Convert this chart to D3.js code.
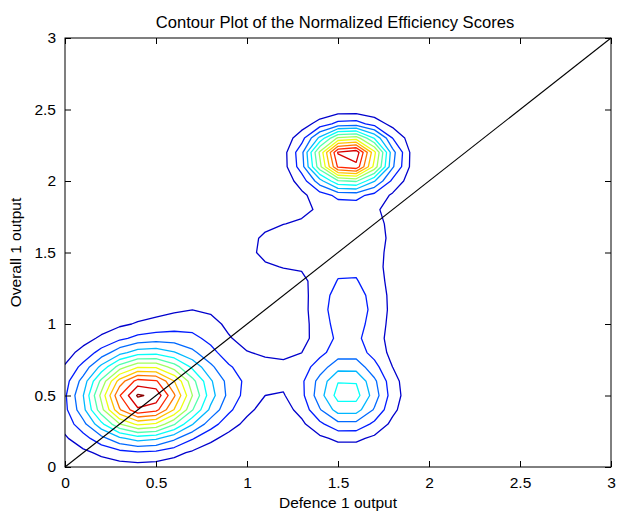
<!DOCTYPE html>
<html><head><meta charset="utf-8">
<script src="https://cdn.jsdelivr.net/npm/d3@7"></script>
<style>body{margin:0;background:#fff} text{font-family:"Liberation Sans",Arial,Helvetica,sans-serif;fill:#000}</style>
</head><body><svg id="c" width="619" height="514"></svg>
<script>
const chartTitle = "Contour Plot of the Normalized Efficiency Scores";
const xLabel = "Defence 1 output";
const yLabel = "Overall 1 output";
const xTicks = [0, 0.5, 1, 1.5, 2, 2.5, 3];
const yTicks = [0, 0.5, 1, 1.5, 2, 2.5, 3];
const tickLabels = ["0", "0.5", "1", "1.5", "2", "2.5", "3"];
const contourLevels = [1, 2, 3, 4, 5, 6, 7, 8, 9, 10, 11, 12, 13];
// density surface: bumps
const bumpX       = [0.42, 0.60, 0.78, 0.05, 0.74, 1.15, 1.55, 1.555, 1.55, 1.16, 1.56];
const bumpY       = [0.485, 0.80, 0.50, 0.38, 1.00, 0.68, 0.51, 1.10, 1.66, 1.53, 2.165];
const bumpHeight  = [12.4, 1.4, 2.0, 0.5, 0.6, 0.8, 5.6, 2.6, 1.45, 1.3, 13.6];
const bumpSpreadX = [0.20, 0.26, 0.20, 0.20, 0.12, 0.14, 0.153, 0.15, 0.23, 0.13, 0.145];
const bumpSpreadY = [0.195, 0.22, 0.18, 0.28, 0.14, 0.12, 0.18, 0.23, 0.22, 0.13, 0.128];
const gridStart = -0.5, gridEnd = 3.5, gridStep = 0.1;
const diagonal = [[0, 0], [3, 3]];

const m = {left: 65, top: 38, right: 611, bottom: 467};
const xs = d3.scaleLinear().domain([0, 3]).range([m.left, m.right]);
const ys = d3.scaleLinear().domain([0, 3]).range([m.bottom, m.top]);
const svg = d3.select("#c");

function surface(x, y) {
  let s = 0;
  for (let k = 0; k < bumpX.length; k++) {
    const dx = (x - bumpX[k]) / bumpSpreadX[k], dy = (y - bumpY[k]) / bumpSpreadY[k];
    s += bumpHeight[k] * Math.exp(-0.5 * (dx * dx + dy * dy));
  }
  return s;
}
const n = Math.round((gridEnd - gridStart) / gridStep) + 1;
const values = new Array(n * n);
for (let j = 0; j < n; j++) for (let i = 0; i < n; i++)
  values[i + j * n] = surface(gridStart + i * gridStep, gridStart + j * gridStep);
const zMin = d3.min(values), zMax = d3.max(values);

// find the grid offset d3.contours uses
const test = d3.contours().size([4, 4]).thresholds([1.5])([0,1,2,3,0,1,2,3,0,1,2,3,0,1,2,3]);
let minX = Infinity;
test[0].coordinates.forEach(p => p.forEach(r => r.forEach(pt => { if (pt[0] < minX) minX = pt[0]; })));
const off = minX - 1.5;

function jet(v) {
  const c = t => Math.max(0, Math.min(1, t));
  const r = c(1.5 - Math.abs(4 * v - 3)), g = c(1.5 - Math.abs(4 * v - 2)), b = c(1.5 - Math.abs(4 * v - 1));
  return d3.rgb(r * 255, g * 255, b * 255).toString();
}

svg.append("defs").append("clipPath").attr("id", "plotclip").append("rect")
  .attr("x", m.left).attr("y", m.top).attr("width", m.right - m.left).attr("height", m.bottom - m.top);

const proj = d3.geoTransform({point: function(x, y) {
  this.stream.point(xs(gridStart + (x - off) * gridStep), ys(gridStart + (y - off) * gridStep));
}});
const path = d3.geoPath(proj);
const contours = d3.contours().size([n, n]).thresholds(contourLevels)(values);
svg.append("g").attr("clip-path", "url(#plotclip)")
  .selectAll("path").data(contours).join("path")
  .attr("d", path).attr("fill", "none")
  .attr("stroke", d => jet((d.value - zMin) / (zMax - zMin)))
  .attr("stroke-width", 1.3).attr("stroke-linejoin", "round");

svg.append("line")
  .attr("x1", xs(diagonal[0][0])).attr("y1", ys(diagonal[0][1]))
  .attr("x2", xs(diagonal[1][0])).attr("y2", ys(diagonal[1][1]))
  .attr("stroke", "#000").attr("stroke-width", 1.1);

svg.append("rect").attr("x", m.left).attr("y", m.top).attr("width", m.right - m.left).attr("height", m.bottom - m.top)
  .attr("fill", "none").attr("stroke", "#000").attr("stroke-width", 1);
const tk = 6;
const axB = svg.append("g").attr("transform", `translate(0,${m.bottom})`)
  .call(d3.axisBottom(xs).tickValues(xTicks).tickSizeInner(-tk).tickSizeOuter(0).tickPadding(10).tickFormat((d, i) => tickLabels[i]));
const axT = svg.append("g").attr("transform", `translate(0,${m.top})`)
  .call(d3.axisTop(xs).tickValues(xTicks).tickSizeInner(-tk).tickSizeOuter(0).tickFormat(""));
const axL = svg.append("g").attr("transform", `translate(${m.left},0)`)
  .call(d3.axisLeft(ys).tickValues(yTicks).tickSizeInner(-tk).tickSizeOuter(0).tickPadding(9).tickFormat((d, i) => tickLabels[i]));
const axR = svg.append("g").attr("transform", `translate(${m.right},0)`)
  .call(d3.axisRight(ys).tickValues(yTicks).tickSizeInner(-tk).tickSizeOuter(0).tickFormat(""));
[axB, axT, axL, axR].forEach(a => {
  a.select(".domain").remove();
  a.selectAll("text").style("font-family", '"Liberation Sans",Arial,sans-serif').style("font-size", "15.5px").attr("fill", "#000");
});

svg.append("text").attr("x", (m.left + m.right) / 2 - 3).attr("y", 28).attr("text-anchor", "middle")
  .style("font-size", "16.6px").text(chartTitle);
svg.append("text").attr("x", (m.left + m.right) / 2).attr("y", 508).attr("text-anchor", "middle")
  .style("font-size", "15.5px").text(xLabel);
svg.append("text").attr("transform", `translate(21,${(m.top + m.bottom) / 2}) rotate(-90)`).attr("text-anchor", "middle")
  .style("font-size", "15.5px").text(yLabel);
</script></body></html>
